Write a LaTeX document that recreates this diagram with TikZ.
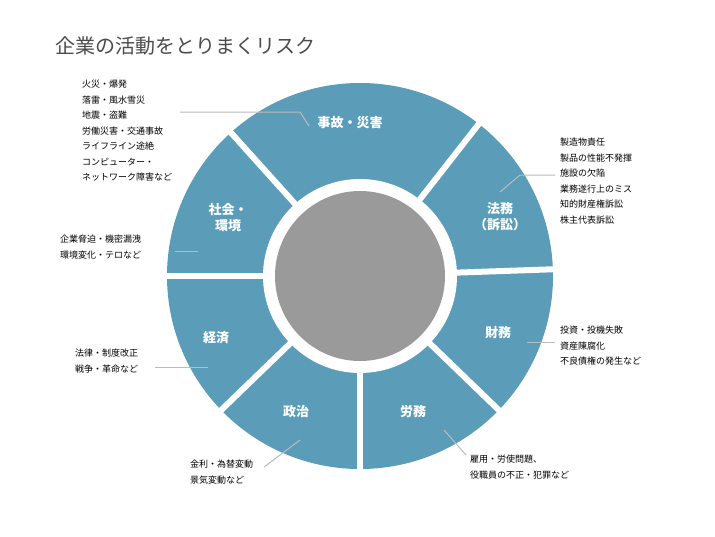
\documentclass[tikz,border=0pt]{standalone}
\usepackage{fontspec}
\setmainfont{Noto Sans CJK JP}
\usetikzlibrary{calc}
\definecolor{ringblue}{HTML}{5B9DB8}
\definecolor{coregray}{HTML}{9A9A9A}
\definecolor{leadgray}{HTML}{BBBBBB}
\tikzset{
    seglabel/.style={text=white, font=\fontsize{13}{16}\selectfont\bfseries, align=center},
    note/.style={font=\fontsize{9}{15.5}\selectfont, align=left, anchor=north west, inner sep=0pt},
    lead/.style={draw=leadgray, line width=1pt},
}
\begin{document}
\begin{tikzpicture}[x=1pt,y=-1pt]
\useasboundingbox[fill=white] (0,0) rectangle (715,536);
\node[anchor=west, text=black!70, font=\fontsize{20}{24}\selectfont] (title) at (52,46) {企業の活動をとりまくリスク};
% ring
\begin{scope}[shift={(360,276)}, x=1pt, y=1pt]
  \fill[ringblue] (0,0) circle (193);
  \fill[white] (0,0) circle (97);
  \foreach \a in {132,52,2,-44,-90,-136,180}
    \draw[white, line width=6pt] (0,0) -- (\a:200);
  \fill[coregray] (0,0) circle (85);
\end{scope}
% segment labels
\node[seglabel] (accident) at (350,123) {事故・災害};
\node[seglabel] (legal) at (500,217) {法務\\（訴訟）};
\node[seglabel] (finance) at (498,333) {財務};
\node[seglabel] (labor) at (413,412) {労務};
\node[seglabel] (politics) at (296,412) {政治};
\node[seglabel] (economy) at (216,338) {経済};
\node[seglabel] (society) at (228,218) {社会・\\環境};
% notes
\node[note] (n1) at (82,80) {火災・爆発\\落雷・風水雪災\\地震・盗難\\労働災害・交通事故\\ライフライン途絶\\コンピューター・\\ネットワーク障害など};
\node[note] (n2) at (560,138) {製造物責任\\製品の性能不発揮\\施設の欠陥\\業務遂行上のミス\\知的財産権訴訟\\株主代表訴訟};
\node[note] (n3) at (60,235) {企業脅迫・機密漏洩\\環境変化・テロなど};
\node[note] (n4) at (560,326) {投資・投機失敗\\資産陳腐化\\不良債権の発生など};
\node[note] (n5) at (75,349) {法律・制度改正\\戦争・革命など};
\node[note] (n6) at (190,460) {金利・為替変動\\景気変動など};
\node[note] (n7) at (470,455) {雇用・労使問題、\\役職員の不正・犯罪など};
% leaders
\coordinate (c1) at (180,112);
\coordinate (c2) at (520,175);
\coordinate (c6) at (264,467);
\coordinate (c7) at (466,455);
\draw[lead] (c1) -- (300,112) -- (309,126);
\draw[lead] (555,175) -- (c2) -- (500,192);
\draw[lead] (175,251) -- (198,251);
\draw[lead] (555,342) -- (527,342);
\draw[lead] (155,367) -- (208,367);
\draw[lead] (c6) -- (300,440);
\draw[lead] (c7) -- (444,430);
\end{tikzpicture}
\end{document}
